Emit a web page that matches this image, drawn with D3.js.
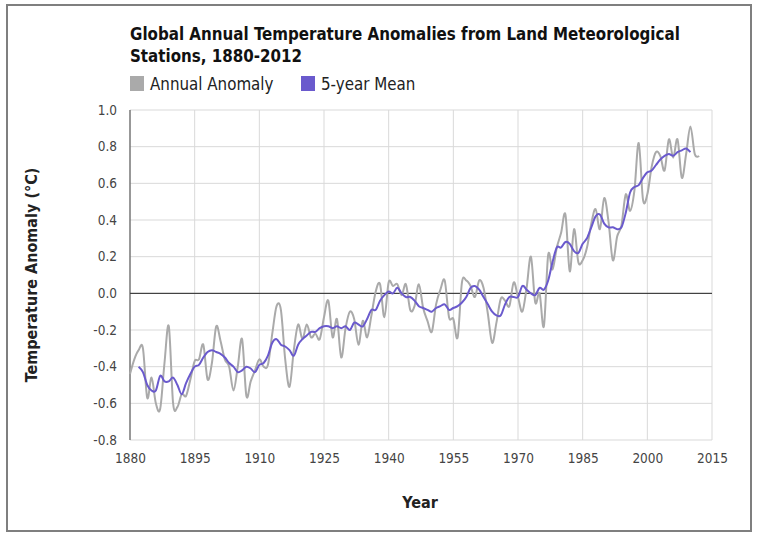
<!DOCTYPE html>
<html>
<head>
<meta charset="utf-8">
<script src="https://cdn.jsdelivr.net/npm/d3@7"></script>
<style>
  body { margin: 0; background: #fff; }
  text { font-family: "DejaVu Sans Condensed", "DejaVu Sans", sans-serif; }
</style>
</head>
<body>
<div id="chart"></div>
<script>
// annual anomaly, one value per year starting 1880
var firstYear = 1880;
var annual = [
  -0.44, -0.36, -0.31, -0.30, -0.57, -0.46, -0.60, -0.63, -0.38, -0.18,
  -0.60, -0.62, -0.55, -0.56, -0.47, -0.37, -0.36, -0.28, -0.47, -0.38,
  -0.18, -0.26, -0.36, -0.40, -0.53, -0.40, -0.25, -0.56, -0.48, -0.42,
  -0.36, -0.40, -0.39, -0.22, -0.07, -0.09, -0.36, -0.51, -0.31, -0.17,
  -0.25, -0.17, -0.24, -0.22, -0.25, -0.13, -0.04, -0.24, -0.14, -0.35,
  -0.19, -0.10, -0.14, -0.28, -0.15, -0.24, -0.12, 0.01, 0.05, -0.13,
  0.06, 0.04, 0.05, -0.01, 0.05, -0.09, -0.07, 0.05, -0.08, -0.15,
  -0.21, -0.06, 0.02, 0.07, -0.13, -0.14, -0.24, 0.06, 0.07, 0.04,
  -0.02, 0.07, 0.03, -0.11, -0.27, -0.16, -0.03, -0.04, -0.07, 0.06,
  -0.02, -0.10, 0.03, 0.20, -0.05, 0.00, -0.18, 0.21, 0.13, 0.25,
  0.33, 0.43, 0.12, 0.35, 0.17, 0.18, 0.25, 0.38, 0.46, 0.35,
  0.52, 0.39, 0.18, 0.31, 0.37, 0.54, 0.45, 0.56, 0.82, 0.51,
  0.54, 0.69, 0.77, 0.75, 0.67, 0.84, 0.74, 0.84, 0.63, 0.76,
  0.91, 0.76, 0.75
];

// 5-year running mean, starting 1882
var meanFirstYear = 1882;
var fiveYear = [
  -0.40, -0.43, -0.50, -0.53, -0.53, -0.45, -0.48, -0.48,
  -0.46, -0.50, -0.55, -0.49, -0.44, -0.40, -0.39, -0.35, -0.32, -0.31,
  -0.32, -0.33, -0.35, -0.38, -0.40, -0.43, -0.42, -0.40, -0.41, -0.43,
  -0.39, -0.38, -0.34, -0.27, -0.25, -0.28, -0.29, -0.31, -0.34, -0.28,
  -0.25, -0.23, -0.21, -0.21, -0.19, -0.18, -0.18, -0.19, -0.18, -0.19,
  -0.18, -0.20, -0.16, -0.17, -0.18, -0.14, -0.09, -0.09, -0.04, -0.01,
  0.01, 0.00, 0.03, 0.00, -0.02, -0.02, -0.04, -0.07, -0.08, -0.09,
  -0.10, -0.08, -0.07, -0.06, -0.09, -0.08, -0.07, -0.05, -0.02, 0.03,
  0.04, 0.02, -0.02, -0.06, -0.10, -0.12, -0.12, -0.06, -0.02, -0.02,
  -0.02, 0.04, 0.02, 0.00, -0.01, 0.03, 0.02, 0.07, 0.17, 0.25,
  0.25, 0.28, 0.27, 0.23, 0.22, 0.27, 0.30, 0.36, 0.42, 0.43,
  0.38, 0.36, 0.36, 0.35, 0.36, 0.44, 0.55, 0.58, 0.59, 0.63,
  0.66, 0.67, 0.70, 0.73, 0.75, 0.76, 0.75, 0.77, 0.78, 0.79,
  0.77
];

var xTicks = [1880, 1895, 1910, 1925, 1940, 1955, 1970, 1985, 2000, 2015];
var yTicks = [-0.8, -0.6, -0.4, -0.2, 0.0, 0.2, 0.4, 0.6, 0.8, 1.0];

var svgWidth = 758, svgHeight = 535;
var margin = { top: 110, right: 46, bottom: 95, left: 130 };
var chartWidth = svgWidth - margin.left - margin.right;
var chartHeight = svgHeight - margin.top - margin.bottom;

var svg = d3.select("#chart").append("svg")
    .attr("width", svgWidth)
    .attr("height", svgHeight);

// outer frame
svg.append("rect")
    .attr("x", 7).attr("y", 5)
    .attr("width", 744).attr("height", 526)
    .attr("fill", "#fff")
    .attr("stroke", "#7f7f7f")
    .attr("stroke-width", 2);

var chartGroup = svg.append("g")
    .attr("transform", `translate(${margin.left}, ${margin.top})`);

var xScale = d3.scaleLinear().domain([1880, 2015]).range([0, chartWidth]);
var yScale = d3.scaleLinear().domain([-0.8, 1.0]).range([chartHeight, 0]);

// gridlines
chartGroup.selectAll(".vgrid").data(xTicks).enter().append("line")
    .attr("x1", d => xScale(d)).attr("x2", d => xScale(d))
    .attr("y1", 0).attr("y2", chartHeight)
    .attr("stroke", "#d9d9d9").attr("stroke-width", 1);
chartGroup.selectAll(".hgrid").data(yTicks).enter().append("line")
    .attr("x1", 0).attr("x2", chartWidth)
    .attr("y1", d => yScale(d)).attr("y2", d => yScale(d))
    .attr("stroke", "#d9d9d9").attr("stroke-width", 1);

// zero line
chartGroup.append("line")
    .attr("x1", 0).attr("x2", chartWidth)
    .attr("y1", yScale(0)).attr("y2", yScale(0))
    .attr("stroke", "#222").attr("stroke-width", 1);

// axes
var xAxis = d3.axisBottom(xScale).tickValues(xTicks).tickSize(0).tickPadding(13)
    .tickFormat(d3.format("d"));
var yAxis = d3.axisLeft(yScale).tickValues(yTicks).tickSize(0).tickPadding(13)
    .tickFormat(d => d.toFixed(1));

var gx = chartGroup.append("g")
    .attr("transform", `translate(0, ${chartHeight})`)
    .call(xAxis);
gx.select(".domain").remove();
gx.selectAll("text").attr("font-size", 13.5).attr("fill", "#444")
    .attr("font-family", "DejaVu Sans Condensed");

var gy = chartGroup.append("g").call(yAxis);
gy.select(".domain").remove();
gy.selectAll("text").attr("font-size", 13.5).attr("fill", "#444")
    .attr("font-family", "DejaVu Sans Condensed");

chartGroup.append("line")
    .attr("x1", 0).attr("x2", 0)
    .attr("y1", 0).attr("y2", chartHeight)
    .attr("stroke", "#444").attr("stroke-width", 1);

// lines
var annualLine = d3.line()
    .x((d, i) => xScale(firstYear + i))
    .y(d => yScale(d))
    .curve(d3.curveCardinal);
var meanLine = d3.line()
    .x((d, i) => xScale(meanFirstYear + i))
    .y(d => yScale(d))
    .curve(d3.curveCardinal);

chartGroup.append("path")
    .datum(annual)
    .attr("d", annualLine)
    .attr("fill", "none")
    .attr("stroke", "#aaaaaa")
    .attr("stroke-width", 2);

chartGroup.append("path")
    .datum(fiveYear)
    .attr("d", meanLine)
    .attr("fill", "none")
    .attr("stroke", "#6a5acd")
    .attr("stroke-width", 2);

// title
var title = svg.append("text")
    .attr("x", 130).attr("y", 40)
    .attr("font-size", 16.8).attr("font-weight", "bold").attr("fill", "#111");
title.append("tspan").attr("x", 130).attr("y", 40)
    .text("Global Annual Temperature Anomalies from Land Meteorological");
title.append("tspan").attr("x", 130).attr("y", 62)
    .text("Stations, 1880-2012");

// legend
var legend = [
  { label: "Annual Anomaly", color: "#aaaaaa", x: 130 },
  { label: "5-year Mean", color: "#6a5acd", x: 301 }
];
legend.forEach(function(l) {
  svg.append("rect")
      .attr("x", l.x).attr("y", 76).attr("width", 14).attr("height", 15)
      .attr("fill", l.color);
  svg.append("text")
      .attr("x", l.x + 20).attr("y", 90)
      .attr("font-size", 16.8).attr("fill", "#222")
      .text(l.label);
});

// axis titles
svg.append("text")
    .attr("transform", `translate(37, ${margin.top + chartHeight / 2}) rotate(-90)`)
    .attr("text-anchor", "middle")
    .attr("font-size", 16).attr("font-weight", "bold").attr("fill", "#222")
    .text("Temperature Anomaly (°C)");

svg.append("text")
    .attr("x", 420).attr("y", 508)
    .attr("text-anchor", "middle")
    .attr("font-size", 16).attr("font-weight", "bold").attr("fill", "#222")
    .text("Year");
</script>
</body>
</html>
